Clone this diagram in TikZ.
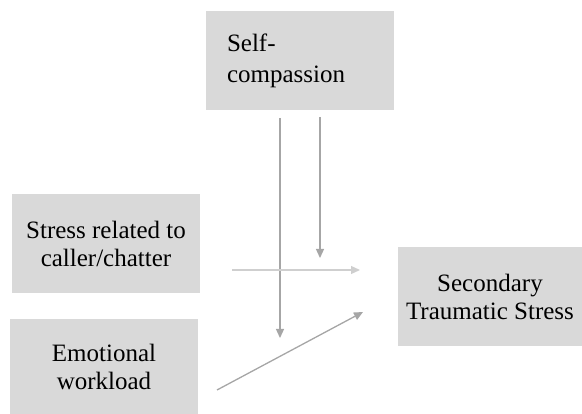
\documentclass[tikz,border=0pt]{standalone}
\usepackage{fontspec}
\setmainfont{Liberation Serif}
\usetikzlibrary{arrows.meta,positioning,calc}
\definecolor{boxgray}{HTML}{D9D9D9}
\definecolor{linkgray}{HTML}{A6A6A6}
\definecolor{softgray}{HTML}{CFCFCF}

\begin{document}
\begin{tikzpicture}[x=1pt,y=-1pt,
  varbox/.style={fill=boxgray,minimum width=188pt,minimum height=99pt,inner sep=0pt,
    font=\fontsize{25}{28}\selectfont,align=center},
  link/.style={linkgray,line width=1.3pt,-{Triangle[length=9pt,width=8pt]}}]
  \useasboundingbox (0,0) rectangle (582,414);

  % Moderator
  \node[varbox,text width=146pt,align=left,font=\fontsize{25}{31}\selectfont] (selfcomp) at (300,60.5) {Self-\\compassion};

  % Predictors
  \node[varbox] (stress) at (106,243.5) {Stress related to\\caller/chatter};
  \node[varbox,minimum height=95pt] (workload) at (104,366.5) {Emotional\\workload};

  % Outcome
  \node[varbox,minimum width=184pt] (sts) at (490,296.5) {Secondary\\Traumatic Stress};

  % Free ends of the paths
  \coordinate (modA) at (280,118);
  \coordinate (modAend) at (280,338);
  \coordinate (modB) at (320,117);
  \coordinate (modBend) at (320,258);
  \coordinate (stressout) at (232,270);
  \coordinate (stressin) at (360,270);
  \coordinate (loadout) at (217,390);
  \coordinate (loadin) at (363,312);

  \draw[link] (modA) -- (modAend);
  \draw[link] (modB) -- (modBend);
  \draw[link,softgray] (stressout) -- (stressin);
  \draw[link] (loadout) -- (loadin);
\end{tikzpicture}
\end{document}
